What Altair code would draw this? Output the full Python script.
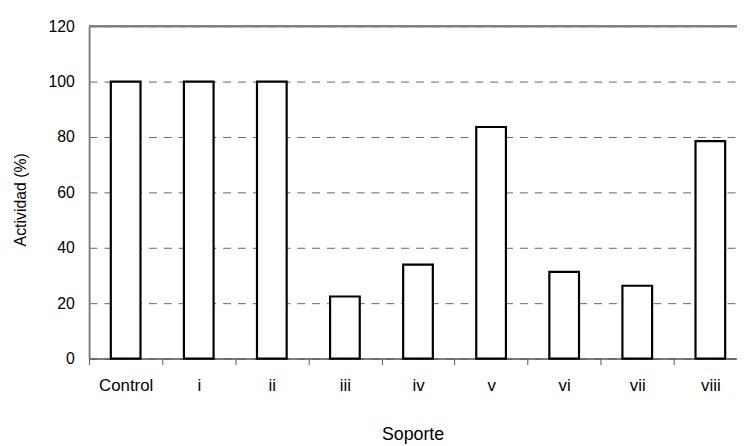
import altair as alt
import pandas as pd

categories = ["Control", "i", "ii", "iii", "iv", "v", "vi", "vii", "viii"]
values = [100, 100, 100, 22.4, 33.9, 83.6, 31.3, 26.3, 78.5]

df = pd.DataFrame({"Soporte": categories, "Actividad": values})

FONT = "Liberation Sans"
W = 655
H = 336

bars = alt.Chart(df).mark_bar(
    size=30, fill="white", stroke="black", strokeWidth=2.2
).encode(
    x=alt.X(
        "Soporte:N",
        sort=categories,
        scale=alt.Scale(paddingInner=0, paddingOuter=0, range=[0, 665]),
        axis=alt.Axis(
            title="Soporte",
            titleX=327,
            titleY=82,
            titleBaseline="alphabetic",
            labelAngle=0,
            labelFont=FONT,
            labelFontSize=17,
            labelColor="black",
            labelPadding=13,
            titleFont=FONT,
            titleFontSize=18,
            titleFontWeight="normal",
            titleColor="black",
            domainColor="#555555",
            domainWidth=1.5,
            tickColor="#555555",
            tickSize=6,
            tickBand="extent",
            grid=False,
        ),
    ),
    y=alt.Y(
        "Actividad:Q",
        scale=alt.Scale(domain=[0, 120], nice=False),
        axis=alt.Axis(
            title="Actividad (%)",
            titleX=-64,
            titleY=175,
            titleBaseline="alphabetic",
            values=[0, 20, 40, 60, 80, 100, 120],
            labelFont=FONT,
            labelFontSize=16,
            labelColor="black",
            labelPadding=15,
            ticks=False,
            titleFont=FONT,
            titleFontSize=16,
            titleFontWeight="normal",
            titleColor="black",
            domainColor="#808080",
            domainWidth=2,
            grid=True,
            gridColor="#666666",
            gridDash=[8, 7],
            gridWidth=1,
        ),
    ),
)

top = alt.Chart(pd.DataFrame({"y": [120]})).mark_rule(
    color="#808080", strokeWidth=2.5
).encode(y="y:Q")

chart = alt.layer(bars, top).properties(
    width=W, height=H,
    autosize=alt.AutoSizeParams(type="none"),
    padding={"left": 82, "top": 16, "right": 0, "bottom": 86},
).configure_view(stroke=None)

chart.save("out.html", embed_options={"renderer": "svg", "actions": False})
